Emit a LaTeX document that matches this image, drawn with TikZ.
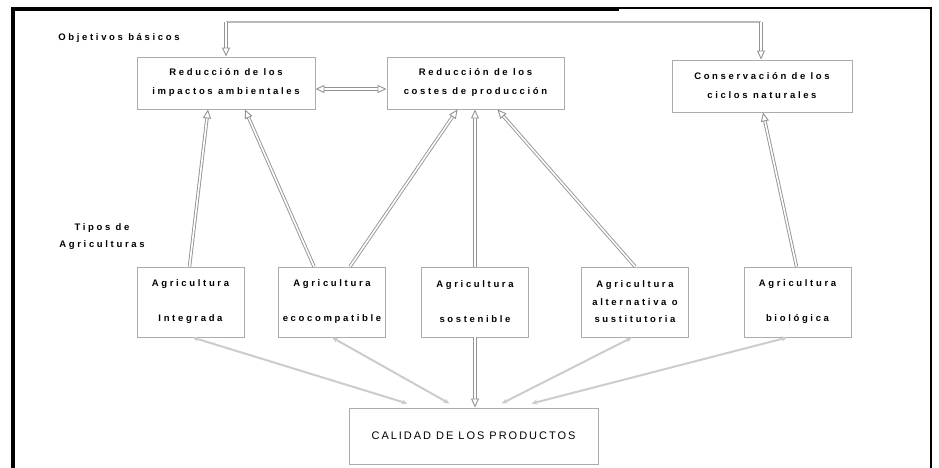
\documentclass[tikz,border=0pt]{standalone}
\usepackage{fontspec}
\setmainfont{Liberation Sans}
\newfontfamily\spc[LetterSpace=28]{Liberation Sans}
\newfontfamily\spcb[LetterSpace=18]{Liberation Sans}
\usetikzlibrary{arrows.meta}
\begin{document}
\begin{tikzpicture}[x=1pt,y=-1pt,
  box/.style={draw=gray!65, line width=0.9pt, inner sep=0pt, align=center,
    font=\spc\bfseries\fontsize{9.5}{19}\selectfont},
  agri/.style={box, minimum width=107pt, minimum height=70pt,
    font=\spc\bfseries\fontsize{9.5}{17.5}\selectfont},
  dbl/.style={draw=gray!85, double=white, double distance=1.6pt, line width=0.9pt,
    -{Triangle[open,length=9pt,width=8pt]}},
  dblboth/.style={dbl, {Triangle[open,length=9pt,width=8pt]}-{Triangle[open,length=9pt,width=8pt]}},
  faint/.style={draw=gray!40, line width=2pt,
    {Stealth[length=6pt,width=5pt]}-{Stealth[length=6pt,width=5pt]}},
  frame/.style={draw=black, line cap=rect},
  lbl/.style={font=\spc\bfseries\fontsize{9.5}{17}\selectfont, align=center, inner sep=0pt}
]
\useasboundingbox (0,0) rectangle (939,468);
% frame
\draw[frame, line width=3.5pt] (13,470) -- (13,9) -- (617,9);
\draw[frame, line width=1.5pt] (617,8) -- (931,8) -- (931,470);

% labels
\node[lbl] (obj) at (119,38) {Objetivos básicos};
\node[lbl] (tipos) at (102,237) {Tipos de\\Agriculturas};

% top boxes
\node[box, minimum width=178pt, minimum height=52pt] (b1) at (226,83)
  {Reducción de los\\impactos ambientales};
\node[box, minimum width=177pt, minimum height=52pt] (b2) at (475.5,83)
  {Reducción de los\\costes de producción};
\node[box, minimum width=180pt, minimum height=52pt] (b3) at (762,86)
  {Conservación de los\\ciclos naturales};

% agriculture boxes
\node[agri] (A) at (190.5,302) {Agricultura\\\mbox{}\\Integrada};
\node[agri] (B) at (332,302) {Agricultura\\\mbox{}\\ecocompatible};
\node[agri] (C) at (475,302) {Agricultura\\\mbox{}\\sostenible};
\node[agri] (D) at (635,302) {Agricultura\\alternativa o\\sustitutoria};
\node[agri] (E) at (797.5,302) {Agricultura\\\mbox{}\\biológica};

% quality box
\node[box, minimum width=249pt, minimum height=56pt,
  font=\spcb\fontsize{11}{13}\selectfont] (cal) at (473.5,436) {CALIDAD DE LOS PRODUCTOS};

% top connector
\coordinate (tL) at (226,22);
\coordinate (tR) at (761,22);
\draw[gray!55, line width=1.2pt] (tL) -- (tR);
\draw[dbl] (tL) -- (tL |- b1.north);
\draw[dbl] (tR) -- (tR |- b3.north);
\draw[dblboth] ([yshift=-6pt]b1.east) -- ([yshift=-6pt]b2.west);

% upward arrows
\draw[dbl] ([xshift=-1pt]A.north) -- ([xshift=-18pt]b1.south);
\draw[dbl] ([xshift=-18pt]B.north) -- ([xshift=19pt]b1.south);
\draw[dbl] ([xshift=18pt]B.north) -- ([xshift=-18pt]b2.south);
\draw[dbl] (C.north) -- (C.north |- b2.south);
\draw[dbl] (D.north) -- ([xshift=22pt]b2.south);
\draw[dbl] ([xshift=-1pt]E.north) -- ([xshift=1pt]b3.south);

% lower arrows
\draw[faint] ([xshift=2pt]A.south) -- ([xshift=-66pt,yshift=4pt]cal.north);
\draw[faint] (B.south) -- ([xshift=-24pt,yshift=4pt]cal.north);
\draw[dbl] (C.south) -- (C.south |- cal.north);
\draw[faint] ([xshift=-3pt]D.south) -- ([xshift=28pt,yshift=4pt]cal.north);
\draw[faint] ([xshift=-10pt]E.south) -- ([xshift=58pt,yshift=4pt]cal.north);
\end{tikzpicture}
\end{document}
